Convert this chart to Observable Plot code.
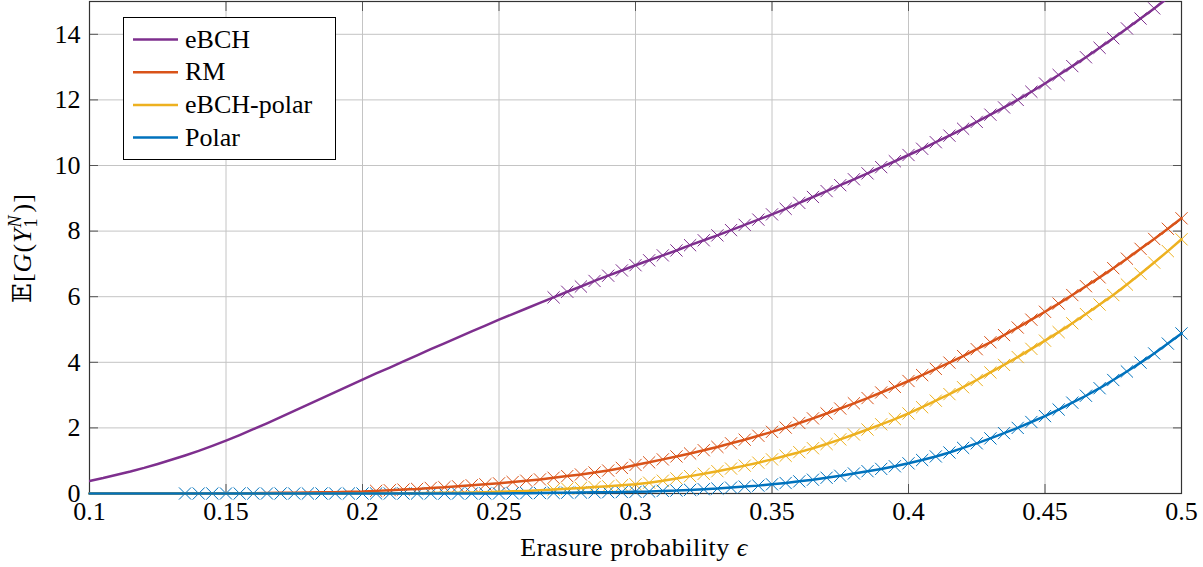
<!DOCTYPE html>
<html><head><meta charset="utf-8">
<script src="https://cdn.jsdelivr.net/npm/d3@7"></script>
<script src="https://cdn.jsdelivr.net/npm/@observablehq/plot@0.6"></script>
<style>body{margin:0;background:#fff} #chart{position:relative;width:1203px;height:567px}</style>
</head><body><div id="chart"></div>
<script>
// Erasure probability grid
const epsilon = [0.100,0.105,0.110,0.115,0.120,0.125,0.130,0.135,0.140,0.145,
  0.150,0.155,0.160,0.165,0.170,0.175,0.180,0.185,0.190,0.195,
  0.200,0.205,0.210,0.215,0.220,0.225,0.230,0.235,0.240,0.245,
  0.250,0.255,0.260,0.265,0.270,0.275,0.280,0.285,0.290,0.295,
  0.300,0.305,0.310,0.315,0.320,0.325,0.330,0.335,0.340,0.345,
  0.350,0.355,0.360,0.365,0.370,0.375,0.380,0.385,0.390,0.395,
  0.400,0.405,0.410,0.415,0.420,0.425,0.430,0.435,0.440,0.445,
  0.450,0.455,0.460,0.465,0.470,0.475,0.480,0.485,0.490,0.495,0.500];
const eBCH = [0.38,0.47,0.57,0.67,0.78,0.90,1.03,1.16,1.30,1.45,
  1.61,1.78,1.96,2.14,2.33,2.52,2.71,2.90,3.09,3.28,
  3.47,3.66,3.84,4.03,4.21,4.40,4.58,4.76,4.94,5.12,
  5.30,5.47,5.64,5.81,5.98,6.15,6.31,6.48,6.64,6.80,
  6.96,7.11,7.26,7.41,7.57,7.72,7.87,8.03,8.19,8.35,
  8.51,8.68,8.86,9.04,9.22,9.40,9.58,9.76,9.95,10.13,
  10.32,10.51,10.71,10.91,11.12,11.33,11.55,11.77,12.00,12.25,
  12.50,12.76,13.03,13.30,13.59,13.88,14.18,14.48,14.79,15.11,15.43];
const RM = [0,0,0,0,0,0,0,0,0,0,
  0,0.005,0.01,0.015,0.02,0.025,0.03,0.035,0.04,0.05,
  0.06,0.08,0.10,0.12,0.14,0.17,0.19,0.22,0.25,0.28,
  0.31,0.35,0.39,0.43,0.48,0.53,0.58,0.64,0.70,0.78,
  0.87,0.95,1.04,1.13,1.22,1.32,1.42,1.53,1.64,1.76,
  1.88,2.01,2.15,2.29,2.44,2.59,2.75,2.91,3.08,3.25,
  3.43,3.61,3.80,3.99,4.19,4.40,4.61,4.83,5.06,5.30,
  5.54,5.79,6.05,6.32,6.59,6.87,7.16,7.46,7.76,8.07,8.39];
const eBCHpolar = [0,0,0,0,0,0,0,0,0,0,
  0,0,0,0,0,0,0,0,0,0,
  0.005,0.006,0.008,0.009,0.01,0.015,0.02,0.025,0.03,0.04,
  0.05,0.065,0.08,0.10,0.12,0.145,0.17,0.195,0.22,0.25,
  0.28,0.33,0.39,0.46,0.53,0.60,0.68,0.76,0.85,0.94,
  1.04,1.15,1.26,1.38,1.51,1.65,1.80,1.95,2.11,2.27,
  2.44,2.63,2.83,3.03,3.24,3.46,3.69,3.92,4.16,4.41,
  4.66,4.92,5.19,5.47,5.76,6.05,6.37,6.70,7.04,7.39,7.75];
const Polar = [0,0,0,0,0,0,0,0,0,0,
  0,0,0,0,0,0,0,0,0,0,
  0,0,0,0,0,0,0,0,0,0,
  0,0.005,0.01,0.015,0.02,0.025,0.03,0.035,0.04,0.045,
  0.05,0.06,0.08,0.09,0.11,0.13,0.15,0.18,0.21,0.24,
  0.28,0.32,0.37,0.42,0.48,0.54,0.61,0.68,0.75,0.83,
  0.92,1.02,1.13,1.25,1.39,1.53,1.68,1.84,2.00,2.18,
  2.36,2.56,2.77,2.98,3.21,3.46,3.72,3.99,4.27,4.57,4.88];

const seriesNames = ["eBCH", "RM", "eBCH-polar", "Polar"];
const seriesColors = ["#7E2F8E", "#D95319", "#EDB120", "#0072BD"];
const markerFrom = [0.27, 0.205, 0.27, 0.135];
const xTicks = [0.1, 0.15, 0.2, 0.25, 0.3, 0.35, 0.4, 0.45, 0.5];
const yTicks = [0, 2, 4, 6, 8, 10, 12, 14];

const seriesValues = [eBCH, RM, eBCHpolar, Polar];
const rows = seriesNames.flatMap((name, k) => epsilon.map((e, i) => ({
  series: name, x: e, y: seriesValues[k][i], mark: e >= markerFrom[k] - 1e-9
})));

const FONT = "'Liberation Serif', 'DejaVu Serif', serif";
const FS = 26;
const W = 1203, H = 567, ML = 89, MR = 22, MT = 1, MB = 74;
const YMAX = 15;

const plot = Plot.plot({
  width: W, height: H,
  marginLeft: ML, marginRight: MR, marginTop: MT, marginBottom: MB,
  style: {fontFamily: FONT, fontSize: FS + "px", background: "#fff", color: "#000"},
  x: {domain: [0.1, 0.5], label: null},
  y: {domain: [0, YMAX], label: null},
  color: {domain: seriesNames, range: seriesColors},
  marks: [
    Plot.gridX(xTicks, {stroke: "#c4c4c4", strokeOpacity: 1, strokeWidth: 1}),
    Plot.gridY(yTicks, {stroke: "#c4c4c4", strokeOpacity: 1, strokeWidth: 1}),
    Plot.axisX(xTicks, {anchor: "bottom", tickSize: 0, tickPadding: 8, tickFormat: d => String(d), fill: "#000", fontFamily: FONT, fontSize: FS}),
    Plot.axisY(yTicks, {anchor: "left", tickSize: 0, tickPadding: 9, tickFormat: d => String(d), fill: "#000", fontFamily: FONT, fontSize: FS}),
    Plot.axisX(xTicks, {anchor: "bottom", tickSize: -9, tickFormat: () => "", stroke: "#555"}),
    Plot.axisX(xTicks, {anchor: "top", tickSize: -9, tickFormat: () => "", stroke: "#555"}),
    Plot.axisY(yTicks, {anchor: "left", tickSize: -9, tickFormat: () => "", stroke: "#555"}),
    Plot.axisY(yTicks, {anchor: "right", tickSize: -9, tickFormat: () => "", stroke: "#555"}),
    Plot.frame({stroke: "#333", strokeWidth: 1.2}),
    Plot.dot(rows.filter(d => d.mark && d.y <= YMAX), {x: "x", y: "y", stroke: "series", symbol: "times", r: 5.6, strokeWidth: 1}),
    Plot.line(rows.filter(d => d.series === "eBCH"), {x: "x", y: "y", stroke: "series", strokeWidth: 2.5, clip: true}),
    Plot.line(rows.filter(d => d.series !== "eBCH"), {x: "x", y: "y", z: "series", stroke: "series", strokeWidth: 2.5})
  ]
});

const svg = d3.select(plot);
// y-axis label
const yl = svg.append("text")
  .attr("transform", `translate(31,248) rotate(-90)`)
  .attr("text-anchor", "middle")
  .attr("font-family", FONT).attr("font-size", FS).attr("fill", "#000")
  .attr("letter-spacing", 1);
yl.append("tspan").text("𝔼[");
yl.append("tspan").attr("font-style", "italic").text("G");
yl.append("tspan").text("(");
yl.append("tspan").attr("font-style", "italic").text("Y");
yl.append("tspan").attr("font-size", 18).attr("dy", 6).text("1");
yl.append("tspan").attr("font-size", 18).attr("font-style", "italic").attr("dx", -10).attr("dy", -16).text("N");
yl.append("tspan").attr("dy", 10).attr("dx", 2).text(")]");

// x-axis label
const xl = svg.append("text")
  .attr("x", 634).attr("y", 556)
  .attr("text-anchor", "middle")
  .attr("font-family", FONT).attr("font-size", FS).attr("fill", "#000")
  .attr("letter-spacing", 0.5);
xl.append("tspan").text("Erasure probability ");
xl.append("tspan").attr("font-style", "italic").text("ϵ");

// legend
const lg = svg.append("g");
lg.append("rect").attr("x", 123.5).attr("y", 17.5).attr("width", 212).attr("height", 142)
  .attr("fill", "#fff").attr("stroke", "#000").attr("stroke-width", 1);
seriesNames.forEach((name, k) => {
  const cy = 39.5 + k * 32.7;
  lg.append("line").attr("x1", 133).attr("x2", 178).attr("y1", cy).attr("y2", cy)
    .attr("stroke", seriesColors[k]).attr("stroke-width", 2.5);
  lg.append("text").attr("x", 185).attr("y", cy + 8)
    .attr("text-anchor", "start")
    .attr("font-family", FONT).attr("font-size", FS).attr("fill", "#000").text(name);
});

document.getElementById("chart").appendChild(plot);
</script>
</body></html>
